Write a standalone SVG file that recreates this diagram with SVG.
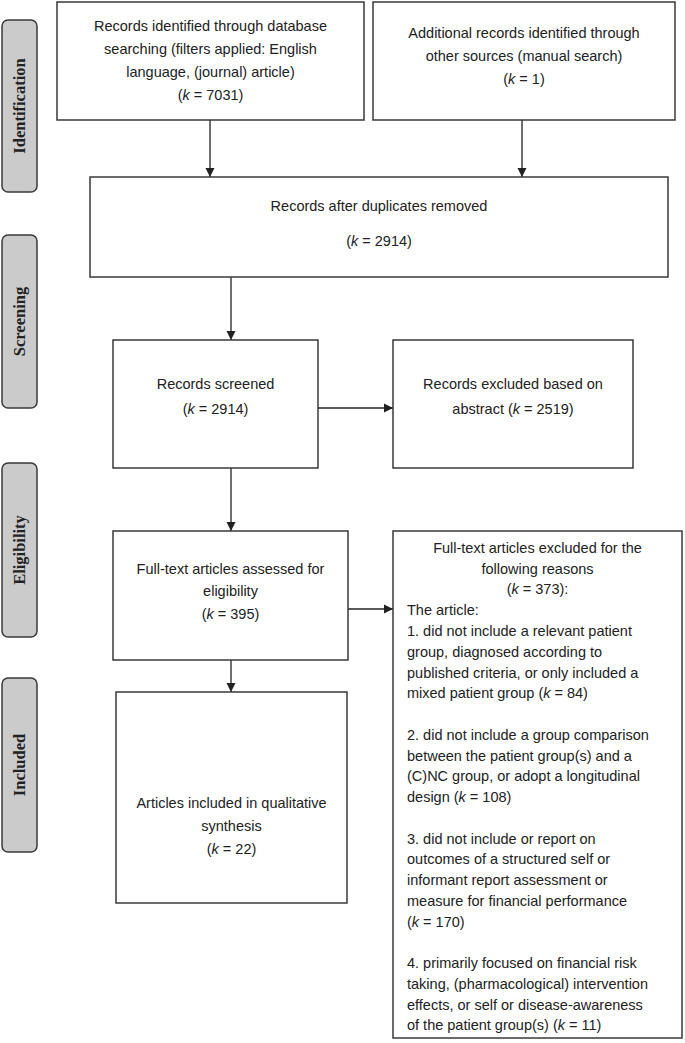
<svg xmlns="http://www.w3.org/2000/svg" width="685" height="1043" viewBox="0 0 685 1043">
<defs>
<marker id="ah" markerWidth="10" markerHeight="10" refX="9" refY="5" orient="auto" markerUnits="userSpaceOnUse">
<path d="M0,0.5 L9,5 L0,9.5 Z" fill="#222"/>
</marker>
<style>
.lab{fill:#cbcbcb;stroke:#3a3a3a;stroke-width:1.5}
.lt{font-family:"Liberation Serif","Times New Roman",serif;font-weight:bold;font-size:16.5px;fill:#222;text-anchor:middle;dominant-baseline:central}
.box{fill:#fff;stroke:#3a3a3a;stroke-width:1.5}
.t{font-family:"Liberation Sans",Arial,sans-serif;font-size:14.5px;fill:#222;text-anchor:middle;dominant-baseline:central}
.tl{font-family:"Liberation Sans",Arial,sans-serif;font-size:14.5px;fill:#222;dominant-baseline:central}
.c{stroke:#222;stroke-width:1.3;fill:none;marker-end:url(#ah)}
</style>
</defs>
<rect width="685" height="1043" fill="#fff"/>
<g id="label-identification"><rect class="lab" x="2" y="20" width="35" height="172" rx="6"/><text class="lt" transform="translate(19.5,106) rotate(-90)">Identification</text></g>
<g id="label-screening"><rect class="lab" x="2" y="235" width="35" height="173" rx="6"/><text class="lt" transform="translate(19.5,321.5) rotate(-90)">Screening</text></g>
<g id="label-eligibility"><rect class="lab" x="2" y="463" width="35" height="174" rx="6"/><text class="lt" transform="translate(19.5,550) rotate(-90)">Eligibility</text></g>
<g id="label-included"><rect class="lab" x="2" y="678" width="35" height="174" rx="6"/><text class="lt" transform="translate(19.5,765) rotate(-90)">Included</text></g>

<g id="connectors">
<line class="c" x1="210" y1="120" x2="210" y2="177"/>
<line class="c" x1="522" y1="120" x2="522" y2="177"/>
<line class="c" x1="231" y1="277" x2="231" y2="340"/>
<line class="c" x1="318" y1="408" x2="393" y2="408"/>
<line class="c" x1="231" y1="468" x2="231" y2="531"/>
<line class="c" x1="348" y1="609" x2="393" y2="609"/>
<line class="c" x1="231" y1="660" x2="231" y2="692"/>
</g>

<g id="n-db">
<rect class="box" x="57" y="2" width="307" height="118"/>
<text class="t" x="210.5" y="26">Records identified through database</text>
<text class="t" x="210.5" y="49">searching (filters applied: English</text>
<text class="t" x="210.5" y="72">language, (journal) article)</text>
<text class="t" x="210.5" y="95">(<tspan font-style="italic">k</tspan> = 7031)</text>
</g>
<g id="n-other">
<rect class="box" x="373" y="2" width="302" height="118"/>
<text class="t" x="524" y="33">Additional records identified through</text>
<text class="t" x="524" y="56">other sources (manual search)</text>
<text class="t" x="524" y="79">(<tspan font-style="italic">k</tspan> = 1)</text>
</g>
<g id="n-dup">
<rect class="box" x="90" y="177" width="578" height="100"/>
<text class="t" x="379" y="206">Records after duplicates removed</text>
<text class="t" x="379" y="241">(<tspan font-style="italic">k</tspan> = 2914)</text>
</g>
<g id="n-screened">
<rect class="box" x="113" y="340" width="205" height="128"/>
<text class="t" x="215.5" y="384">Records screened</text>
<text class="t" x="215.5" y="409">(<tspan font-style="italic">k</tspan> = 2914)</text>
</g>
<g id="n-excl-abs">
<rect class="box" x="393" y="340" width="240" height="128"/>
<text class="t" x="513" y="384">Records excluded based on</text>
<text class="t" x="513" y="409">abstract (<tspan font-style="italic">k</tspan> = 2519)</text>
</g>
<g id="n-fulltext">
<rect class="box" x="113" y="531" width="235" height="129"/>
<text class="t" x="230.5" y="569">Full-text articles assessed for</text>
<text class="t" x="230.5" y="591">eligibility</text>
<text class="t" x="230.5" y="614">(<tspan font-style="italic">k</tspan> = 395)</text>
</g>
<g id="n-excl-full">
<rect class="box" x="393" y="531" width="289" height="507"/>
<text class="t" x="537.5" y="548">Full-text articles excluded for the</text>
<text class="t" x="537.5" y="569">following reasons</text>
<text class="t" x="537.5" y="589">(<tspan font-style="italic">k</tspan> = 373):</text>
<text class="tl" x="407" y="610">The article:</text>
<text class="tl" x="407" y="631">1. did not include a relevant patient</text>
<text class="tl" x="407" y="652">group, diagnosed according to</text>
<text class="tl" x="407" y="672.5">published criteria, or only included a</text>
<text class="tl" x="407" y="693">mixed patient group (<tspan font-style="italic">k</tspan> = 84)</text>
<text class="tl" x="407" y="735">2. did not include a group comparison</text>
<text class="tl" x="407" y="755.5">between the patient group(s) and a</text>
<text class="tl" x="407" y="776">(C)NC group, or adopt a longitudinal</text>
<text class="tl" x="407" y="797">design (<tspan font-style="italic">k</tspan> = 108)</text>
<text class="tl" x="407" y="838.5">3. did not include or report on</text>
<text class="tl" x="407" y="859">outcomes of a structured self or</text>
<text class="tl" x="407" y="880">informant report assessment or</text>
<text class="tl" x="407" y="900.5">measure for financial performance</text>
<text class="tl" x="407" y="921.5">(<tspan font-style="italic">k</tspan> = 170)</text>
<text class="tl" x="407" y="963">4. primarily focused on financial risk</text>
<text class="tl" x="407" y="983.5">taking, (pharmacological) intervention</text>
<text class="tl" x="407" y="1004.5">effects, or self or disease-awareness</text>
<text class="tl" x="407" y="1025">of the patient group(s) (<tspan font-style="italic">k</tspan> = 11)</text>
</g>
<g id="n-included">
<rect class="box" x="116" y="692" width="231" height="211"/>
<text class="t" x="231.5" y="803">Articles included in qualitative</text>
<text class="t" x="231.5" y="826">synthesis</text>
<text class="t" x="231.5" y="849">(<tspan font-style="italic">k</tspan> = 22)</text>
</g>
</svg>
